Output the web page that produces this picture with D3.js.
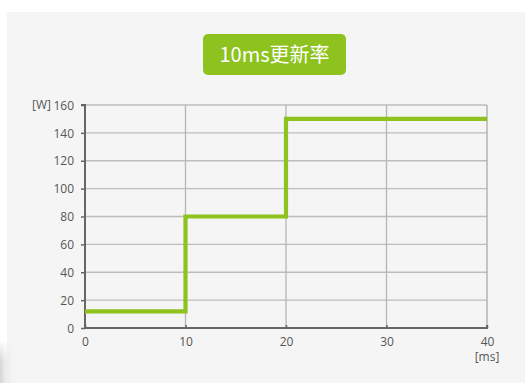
<!DOCTYPE html>
<html>
<head>
<meta charset="utf-8">
<script src="https://cdn.jsdelivr.net/npm/d3@7"></script>
<style>
  body { margin: 0; background: #fff; }
  svg { display: block; }
  text { font-family: "Open Sans", "Noto Sans", sans-serif; }
</style>
</head>
<body>
<svg id="chart" width="525" height="383"></svg>
<script>
// chart values
let title = '10ms更新率'
let times = [0, 10, 20, 40]
let watts = [12, 80, 150, 150]
let xTicks = [0, 10, 20, 30, 40]
let yTicks = [0, 20, 40, 60, 80, 100, 120, 140, 160]
let xUnit = '[ms]'
let yUnit = '[W]'

let svg = d3.select('#chart')
let green = '#8dc21f'

// background panel
let defs = svg.append('defs')
let grad = defs.append('linearGradient').attr('id', 'shade').attr('x1', 0).attr('x2', 1)
grad.append('stop').attr('offset', 0).attr('stop-color', '#d0d0d0').attr('stop-opacity', 0.9)
grad.append('stop').attr('offset', 1).attr('stop-color', '#f5f5f5').attr('stop-opacity', 0)
let fade = defs.append('linearGradient').attr('id', 'fade').attr('x1', 0).attr('x2', 0).attr('y1', 0).attr('y2', 1)
fade.append('stop').attr('offset', 0).attr('stop-color', '#fff').attr('stop-opacity', 0)
fade.append('stop').attr('offset', 0.5).attr('stop-color', '#fff').attr('stop-opacity', 1)
let mask = defs.append('mask').attr('id', 'shadeMask')
mask.append('rect').attr('x', 0).attr('y', 340).attr('width', 16).attr('height', 43).attr('fill', 'url(#fade)')

svg.append('rect').attr('x', 7).attr('y', 12).attr('width', 518).attr('height', 371).attr('fill', '#f5f5f5')
svg.append('rect').attr('x', 0).attr('y', 340).attr('width', 16).attr('height', 43)
    .attr('fill', 'url(#shade)').attr('mask', 'url(#shadeMask)')

// title badge
svg.append('rect')
    .attr('x', 203).attr('y', 34).attr('width', 143).attr('height', 41)
    .attr('rx', 5).attr('fill', green)
svg.append('text')
    .attr('x', 274.5).attr('y', 62)
    .attr('text-anchor', 'middle')
    .attr('fill', '#fff')
    .attr('font-size', 20)
    .style('font-family', '"Noto Sans CJK SC", "Noto Sans", sans-serif')
    .text(title)

// scales
let x = d3.scaleLinear([0, 40], [85, 487])
let y = d3.scaleLinear([0, 160], [328, 105])

// grid
svg.append('g').selectAll('line').data(yTicks.filter((d) => d > 0)).join('line')
    .attr('x1', x(0)).attr('x2', x(40))
    .attr('y1', (d) => y(d)).attr('y2', (d) => y(d))
    .attr('stroke', '#bdbdbd').attr('stroke-width', 1.3)
svg.append('g').selectAll('line').data(xTicks.filter((d) => d > 0)).join('line')
    .attr('x1', (d) => x(d)).attr('x2', (d) => x(d))
    .attr('y1', y(160)).attr('y2', y(0))
    .attr('stroke', (d) => d === 40 ? '#aaa' : '#b5b5b5').attr('stroke-width', 1.3)

// axes
let yAxis = d3.axisLeft(y).tickValues(yTicks).tickSize(4).tickPadding(7)
let xAxis = d3.axisBottom(x).tickValues(xTicks).tickSize(-3).tickPadding(11)

let gy = svg.append('g').attr('transform', `translate(${x(0)},0)`).call(yAxis)
let gx = svg.append('g').attr('transform', `translate(0,${y(0)})`).call(xAxis)

for (let g of [gx, gy]) {
    g.attr('font-size', null).attr('font-family', null)
    g.select('.domain').attr('stroke', '#666').attr('stroke-width', 2)
    g.selectAll('.tick line').attr('stroke', '#666').attr('stroke-width', 1.5)
    g.selectAll('.tick text').attr('fill', '#555').style('font-size', '12px')
        .style('font-family', '"Open Sans", "Noto Sans", sans-serif')
}
gy.select('.domain').attr('d', `M-4,${y(160)}H0V${y(0)}`)
gx.select('.domain').attr('d', `M${x(0)},0H${x(40)}V-3`)
gy.selectAll('.tick text').attr('dy', '0.35em')
gx.selectAll('.tick text').attr('y', 9).attr('dy', '0.71em')

// units
svg.append('text').attr('x', 51).attr('y', y(160) + 4)
    .attr('text-anchor', 'end').attr('fill', '#555').style('font-size', '12px')
    .text(yUnit)
svg.append('text').attr('x', x(40)).attr('y', 361)
    .attr('text-anchor', 'middle').attr('fill', '#555').style('font-size', '12px')
    .text(xUnit)

// step line
let line = d3.line()
    .x((d) => x(d[0]))
    .y((d) => y(d[1]))
    .curve(d3.curveStepAfter)

svg.append('path')
    .datum(times.map((t, i) => [t, watts[i]]))
    .attr('d', line)
    .attr('fill', 'none')
    .attr('stroke', green)
    .attr('stroke-width', 4.2)
</script>
</body>
</html>
